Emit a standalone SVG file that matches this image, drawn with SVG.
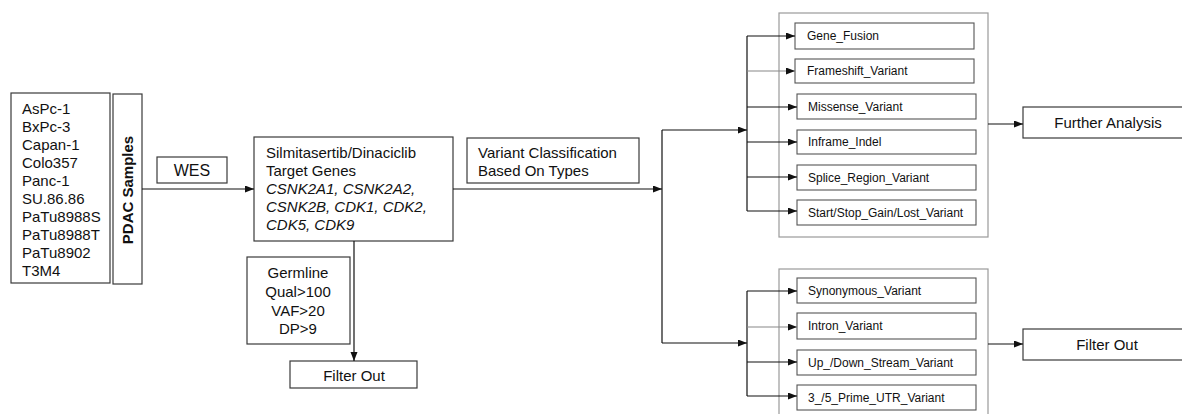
<svg xmlns="http://www.w3.org/2000/svg" width="1182" height="414" viewBox="0 0 1182 414">
<style>
text{font-family:"Liberation Sans",Arial,sans-serif;fill:#111}
.t15{font-size:15px}
.t12{font-size:12px}
.box{fill:#fff;stroke:#3a3a3a;stroke-width:1.2}
.cont{fill:#fff;stroke:#9a9a9a;stroke-width:1.2}
.item{fill:#fff;stroke:#555;stroke-width:1.1}
.ln{fill:none;stroke:#111;stroke-width:1.2}
.lg{fill:none;stroke:#888;stroke-width:1.2}
</style>
<defs>
<marker id="ah" markerUnits="userSpaceOnUse" markerWidth="10" markerHeight="8" refX="9" refY="3.5" orient="auto">
<path d="M0,0 L9,3.5 L0,7 z" fill="#111"/>
</marker>
</defs>
<rect x="0" y="0" width="1182" height="414" fill="#fff"/>

<g id="cell-lines">
<rect class="box" x="11" y="93" width="99" height="190"/>
<text class="t15" x="22" y="114">AsPc-1</text>
<text class="t15" x="22" y="132">BxPc-3</text>
<text class="t15" x="22" y="150">Capan-1</text>
<text class="t15" x="22" y="168">Colo357</text>
<text class="t15" x="22" y="186">Panc-1</text>
<text class="t15" x="22" y="204">SU.86.86</text>
<text class="t15" x="22" y="222">PaTu8988S</text>
<text class="t15" x="22" y="240">PaTu8988T</text>
<text class="t15" x="22" y="258">PaTu8902</text>
<text class="t15" x="22" y="276">T3M4</text>
</g>
<g id="pdac">
<rect class="box" x="113" y="94" width="29" height="190"/>
<text class="t15" font-weight="bold" text-anchor="middle" transform="translate(133,190) rotate(-90)">PDAC Samples</text>
</g>
<g id="wes">
<rect class="box" x="157" y="157" width="70" height="26"/>
<text x="192" y="176" text-anchor="middle" font-size="16">WES</text>
</g>
<g id="targets">
<rect class="box" x="254" y="137" width="199" height="104"/>
<text class="t15" x="266" y="158">Silmitasertib/Dinaciclib</text>
<text class="t15" x="266" y="176">Target Genes</text>
<text class="t15" x="266" y="194" font-style="italic">CSNK2A1, CSNK2A2,</text>
<text class="t15" x="266" y="212" font-style="italic">CSNK2B, CDK1, CDK2,</text>
<text class="t15" x="266" y="230" font-style="italic">CDK5, CDK9</text>
</g>
<g id="germline">
<rect class="box" x="247" y="257" width="103" height="87"/>
<text class="t15" x="298" y="278" text-anchor="middle">Germline</text>
<text class="t15" x="298" y="297" text-anchor="middle">Qual&gt;100</text>
<text class="t15" x="298" y="316" text-anchor="middle">VAF&gt;20</text>
<text class="t15" x="298" y="334" text-anchor="middle">DP&gt;9</text>
</g>
<g id="filter-out-1">
<rect class="box" x="290" y="361" width="127" height="27"/>
<text class="t15" x="354" y="381" text-anchor="middle">Filter Out</text>
</g>
<g id="classification">
<rect class="box" x="467" y="138" width="172" height="45"/>
<text class="t15" x="478" y="158">Variant Classification</text>
<text class="t15" x="478" y="176">Based On Types</text>
</g>

<g id="group-keep">
<rect class="cont" x="779" y="13" width="209" height="224"/>
<g id="gene-fusion"><rect class="item" x="795" y="23" width="179" height="26"/><text class="t12" x="807" y="40">Gene_Fusion</text></g>
<g id="frameshift"><rect class="item" x="795" y="59" width="179" height="24" stroke="#333"/><text class="t12" x="807" y="75">Frameshift_Variant</text></g>
<g id="missense"><rect class="item" x="797" y="94" width="179" height="25"/><text class="t12" x="808" y="111">Missense_Variant</text></g>
<g id="inframe"><rect class="item" x="797" y="130" width="179" height="24"/><text class="t12" x="808" y="146">Inframe_Indel</text></g>
<g id="splice"><rect class="item" x="797" y="165" width="179" height="25"/><text class="t12" x="808" y="182">Splice_Region_Variant</text></g>
<g id="startstop"><rect class="item" x="797" y="200" width="179" height="25"/><text class="t12" x="808" y="217">Start/Stop_Gain/Lost_Variant</text></g>
</g>

<g id="group-drop">
<rect class="cont" x="779" y="269" width="209" height="160"/>
<g id="synonymous"><rect class="item" x="797" y="278" width="179" height="25"/><text class="t12" x="808" y="295">Synonymous_Variant</text></g>
<g id="intron"><rect class="item" x="797" y="313" width="179" height="26"/><text class="t12" x="808" y="330">Intron_Variant</text></g>
<g id="updown"><rect class="item" x="797" y="350" width="179" height="25"/><text class="t12" x="808" y="367">Up_/Down_Stream_Variant</text></g>
<g id="utr"><rect class="item" x="797" y="385" width="179" height="25"/><text class="t12" x="808" y="402">3_/5_Prime_UTR_Variant</text></g>
</g>

<g id="further-analysis">
<rect class="box" x="1023" y="107" width="170" height="31"/>
<text class="t15" x="1108" y="128" text-anchor="middle">Further Analysis</text>
</g>
<g id="filter-out-2">
<rect class="box" x="1023" y="329" width="170" height="31"/>
<text class="t15" x="1107" y="350" text-anchor="middle">Filter Out</text>
</g>

<g id="connectors">
<path class="ln" d="M142,189 H254" marker-end="url(#ah)"/>
<path class="ln" d="M453,189 H662" marker-end="url(#ah)"/>
<path class="ln" d="M354,241 V361" marker-end="url(#ah)"/>
<path class="ln" d="M662,130 V343"/>
<path class="ln" d="M662,130 H747" marker-end="url(#ah)"/>
<path class="ln" d="M662,343 H747" marker-end="url(#ah)"/>
<path class="ln" d="M747,36 V211"/>
<path class="ln" d="M747,36 H795" marker-end="url(#ah)"/>
<path class="lg" d="M747,71 H795" marker-end="url(#ah)"/>
<path class="ln" d="M747,107 H797" marker-end="url(#ah)"/>
<path class="ln" d="M747,142 H797" marker-end="url(#ah)"/>
<path class="ln" d="M747,177 H797" marker-end="url(#ah)"/>
<path class="ln" d="M747,211 H797" marker-end="url(#ah)"/>
<path class="ln" d="M747,291 V396"/>
<path class="ln" d="M747,291 H797" marker-end="url(#ah)"/>
<path class="lg" d="M747,327 H797" marker-end="url(#ah)"/>
<path class="ln" d="M747,362 H797" marker-end="url(#ah)"/>
<path class="ln" d="M747,396 H797" marker-end="url(#ah)"/>
<path class="ln" d="M988,124 H1023" marker-end="url(#ah)"/>
<path class="ln" d="M988,344 H1023" marker-end="url(#ah)"/>
</g>
</svg>
